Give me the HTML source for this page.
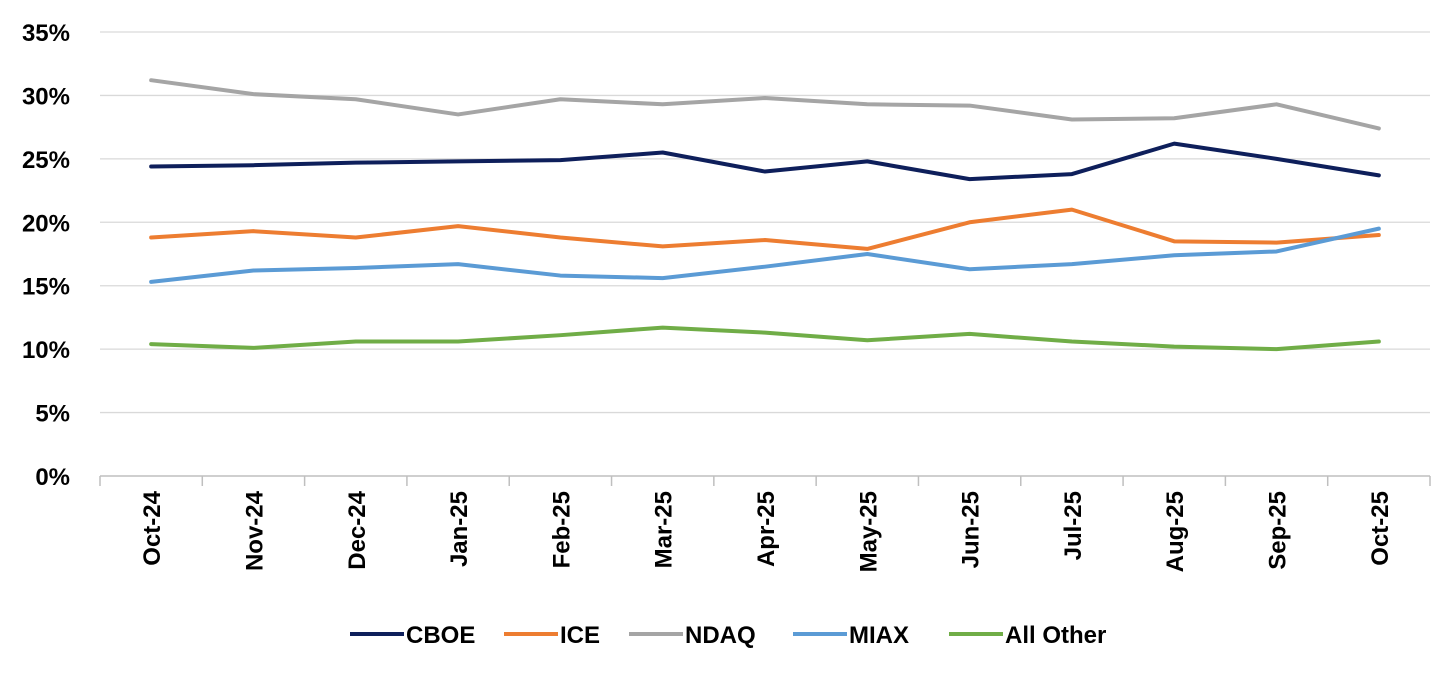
<!DOCTYPE html>
<html><head><meta charset="utf-8"><style>
body{margin:0;background:#fff;}
svg{display:block;font-family:"Liberation Sans",sans-serif;font-weight:bold;}
</style></head><body>
<svg id="chart" width="1456" height="676"></svg>
<script>
const categories=["Oct-24","Nov-24","Dec-24","Jan-25","Feb-25","Mar-25","Apr-25","May-25","Jun-25","Jul-25","Aug-25","Sep-25","Oct-25"];
const yTicks=[0,5,10,15,20,25,30,35];
const seriesNames=["CBOE","ICE","NDAQ","MIAX","All Other"];
const cboe=[24.4,24.5,24.7,24.8,24.9,25.5,24.0,24.8,23.4,23.8,26.2,25.0,23.7];
const ice=[18.8,19.3,18.8,19.7,18.8,18.1,18.6,17.9,20.0,21.0,18.5,18.4,19.0];
const ndaq=[31.2,30.1,29.7,28.5,29.7,29.3,29.8,29.3,29.2,28.1,28.2,29.3,27.4];
const miax=[15.3,16.2,16.4,16.7,15.8,15.6,16.5,17.5,16.3,16.7,17.4,17.7,19.5];
const allOther=[10.4,10.1,10.6,10.6,11.1,11.7,11.3,10.7,11.2,10.6,10.2,10.0,10.6];
const colors=["#0e1f5b","#ED7D31","#A5A5A5","#5B9BD5","#70AD47"];
const svg=document.getElementById('chart');
const NS="http://www.w3.org/2000/svg";
const x0=100,x1=1430,yTop=32,yBot=476,yMax=35;
const step=(x1-x0)/categories.length;
const xs=i=>x0+step*(i+0.5);
const ys=v=>yBot-(v/yMax)*(yBot-yTop);
function mk(t,a){const e=document.createElementNS(NS,t);for(const k in a)e.setAttribute(k,a[k]);svg.appendChild(e);return e;}
yTicks.forEach(t=>{
  if(t>0){const g=mk('line',{x1:x0,x2:x1,y1:ys(t),y2:ys(t),stroke:'#d9d9d9','stroke-width':1.3});
  
  }
  const l=mk('text',{x:70,y:ys(t)+9,'text-anchor':'end','font-size':24,fill:'#000'});
  l.textContent=t+'%';
  
  
});
const ax=mk('line',{x1:x0,x2:x1,y1:yBot,y2:yBot,stroke:'#bfbfbf','stroke-width':1.5});


for(let i=0;i<=categories.length;i++){
  const tk=mk('line',{x1:x0+step*i,x2:x0+step*i,y1:yBot,y2:yBot+10,stroke:'#bfbfbf','stroke-width':1.5});
  
  
}
categories.forEach((c,i)=>{
  const t=mk('text',{transform:`translate(${xs(i)+9},491) rotate(-90)`,'text-anchor':'end','font-size':24,fill:'#000'});
  t.textContent=c;
  
  
});
const data=[cboe,ice,ndaq,miax,allOther];
[2,0,1,3,4].forEach(k=>{
  const d=data[k].map((v,i)=>(i?'L':'M')+xs(i)+','+ys(v)).join(' ');
  const p=mk('path',{d:d,fill:'none',stroke:colors[k],'stroke-width':4,'stroke-linejoin':'round','stroke-linecap':'round'});
  
  
});
const legX=[350,504,629,793,949];
seriesNames.forEach((n,k)=>{
  const l=mk('line',{x1:legX[k],x2:legX[k]+54,y1:634,y2:634,stroke:colors[k],'stroke-width':4});
  
  
  const t=mk('text',{x:legX[k]+56,y:643,'font-size':24,fill:'#000'});
  t.textContent=n;
  
  
});
</script>
</body></html>
